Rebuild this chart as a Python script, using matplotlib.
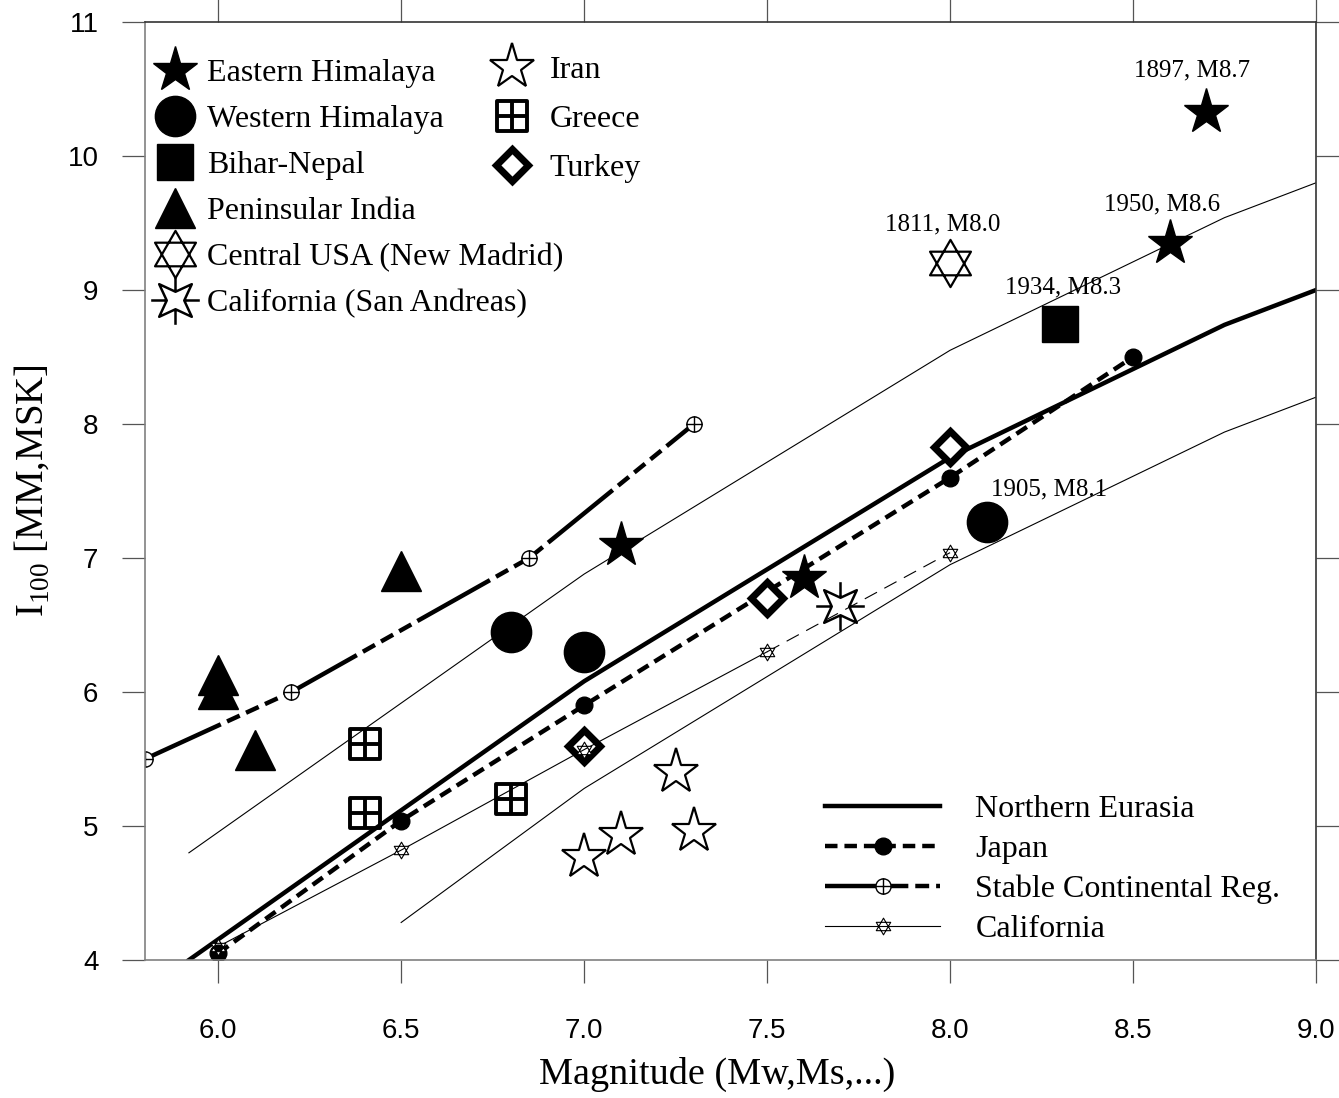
import matplotlib
matplotlib.use("Agg")
import matplotlib.pyplot as plt
from matplotlib.path import Path
import numpy as np

plt.rcParams['font.family'] = ['Liberation Serif', 'DejaVu Serif']
plt.rcParams['mathtext.fontset'] = 'custom'
plt.rcParams['mathtext.rm'] = 'Liberation Serif'
plt.rcParams['lines.scale_dashes'] = False

# ---- data ----
# model curves
ne_x = [5.92, 7.0, 8.0, 8.75, 9.0]
ne_y = [4.0, 6.08, 7.75, 8.74, 9.0]
upper_x = [5.92, 7.0, 8.0, 8.75, 9.0]
upper_y = [4.8, 6.88, 8.55, 9.54, 9.8]
lower_x = [6.5, 7.0, 8.0, 8.75, 9.0]
lower_y = [4.28, 5.28, 6.95, 7.94, 8.2]
japan_x = [6.0, 6.5, 7.0, 8.0, 8.5]
japan_y = [4.05, 5.04, 5.9, 7.6, 8.5]
scr_x = [5.8, 6.2, 6.85, 7.3]
scr_y = [5.5, 6.0, 7.0, 8.0]
cal_x = [6.0, 6.5, 7.0, 7.5]
cal_y = [4.1, 4.82, 5.57, 6.3]
cal_dash_x = [7.5, 8.0]
cal_dash_y = [6.3, 7.04]

# observed points
ehim_x = [8.7, 8.6, 7.1, 7.6]
ehim_y = [10.33, 9.35, 7.1, 6.85]
whim_x = [6.8, 7.0, 8.1]
whim_y = [6.45, 6.3, 7.27]
bihar_x = [8.3]
bihar_y = [8.75]
penin_x = [6.0, 6.0, 6.1, 6.5]
penin_y = [6.13, 6.02, 5.57, 6.9]
cusa_x = [8.0]
cusa_y = [9.2]
sanand_x = [7.7]
sanand_y = [6.64]
iran_x = [7.0, 7.1, 7.25, 7.3]
iran_y = [4.77, 4.93, 5.4, 4.96]
greece_x = [6.4, 6.4, 6.8]
greece_y = [5.61, 5.1, 5.2]
turkey_x = [8.0, 7.5, 7.0]
turkey_y = [7.83, 6.7, 5.6]

notes = ["1897, M8.7", "1950, M8.6", "1811, M8.0", "1934, M8.3", "1905, M8.1"]
notes_x = [8.66, 8.58, 7.98, 8.31, 8.27]
notes_y = [10.64, 9.64, 9.49, 9.02, 7.51]

# ---- custom markers ----
def hexagram():
    s = np.sqrt(3) / 2
    verts = [(0, 1), (-s, -0.5), (s, -0.5), (0, 1),
             (0, -1), (-s, 0.5), (s, 0.5), (0, -1)]
    codes = [Path.MOVETO, Path.LINETO, Path.LINETO, Path.CLOSEPOLY] * 2
    return Path(verts, codes)

def star4_cross():
    R, r = 0.95, 0.36
    verts, codes = [], []
    for k in range(8):
        ang = np.pi / 2 + k * np.pi / 4
        rad = r if k % 2 == 0 else R
        verts.append((rad * np.cos(ang), rad * np.sin(ang)))
        codes.append(Path.MOVETO if k == 0 else Path.LINETO)
    verts.append(verts[0]); codes.append(Path.CLOSEPOLY)
    for (a, b) in [((0, r), (0, 1)), ((0, -r), (0, -1)), ((r, 0), (1, 0)), ((-r, 0), (-1, 0))]:
        verts += [a, b]; codes += [Path.MOVETO, Path.LINETO]
    return Path(verts, codes)

def box_cross():
    verts = [(-1, -1), (1, -1), (1, 1), (-1, 1), (-1, -1),
             (0, -1), (0, 1), (-1, 0), (1, 0)]
    codes = [Path.MOVETO, Path.LINETO, Path.LINETO, Path.LINETO, Path.CLOSEPOLY,
             Path.MOVETO, Path.LINETO, Path.MOVETO, Path.LINETO]
    return Path(verts, codes)

def circle_plus():
    c = Path.unit_circle()
    cross = Path([(0, -1), (0, 1), (-1, 0), (1, 0)],
                 [Path.MOVETO, Path.LINETO, Path.MOVETO, Path.LINETO])
    return Path.make_compound_path(c, cross)

fig = plt.figure(figsize=(13.39, 10.98), dpi=100)
ax = fig.add_axes([145 / 1339, 1 - 960 / 1098, 1171 / 1339, 938 / 1098])

# model lines
l_ne, = ax.plot(ne_x, ne_y, color='black', lw=3.2, label='Northern Eurasia', zorder=2)
ax.plot(upper_x, upper_y, color='black', lw=0.8, zorder=2)
ax.plot(lower_x, lower_y, color='black', lw=0.8, zorder=2)
l_jp, = ax.plot(japan_x, japan_y, color='black', lw=3.2, dashes=(9, 5),
                marker='o', ms=12, label='Japan', zorder=2)
l_scr, = ax.plot(scr_x, scr_y, color='black', lw=3.2, dashes=(60, 5, 10, 5, 10, 5, 10, 5),
                 marker=circle_plus(), ms=11, mfc='white', mec='black', mew=1.0,
                 label='Stable Continental Reg.', zorder=2)
ax.plot(cal_dash_x, cal_dash_y, color='black', lw=0.8, dashes=(10, 6), zorder=6)
l_cal, = ax.plot(cal_x, cal_y, color='black', lw=0.8, marker=hexagram(), ms=12,
                 mfc='white', mec='black', mew=0.8, label='California', zorder=6)
ax.plot(cal_dash_x[-1:], cal_dash_y[-1:], ls='none', marker=hexagram(), ms=12,
        mfc='white', mec='black', mew=0.8, zorder=6)

# observed points
kw = dict(ls='none', color='black')
p_turk, = ax.plot(turkey_x, turkey_y, marker='D', ms=16, mfc='white', mec='black',
                  mew=5.0, label='Turkey', zorder=3, **kw)
p_gr, = ax.plot(greece_x, greece_y, marker=box_cross(), ms=21, mfc='none', mec='black',
                mew=2.8, label='Greece', zorder=3, **kw)
p_iran, = ax.plot(iran_x, iran_y, marker='*', ms=34, mfc='white', mec='black',
                  mew=1.6, label='Iran', zorder=3, **kw)
p_whim, = ax.plot(whim_x, whim_y, marker='o', ms=29, label='Western Himalaya', zorder=4, **kw)
p_bih, = ax.plot(bihar_x, bihar_y, marker='s', ms=26, label='Bihar-Nepal', zorder=4, **kw)
p_pen, = ax.plot(penin_x, penin_y, marker='^', ms=29, label='Peninsular India', zorder=4, **kw)
p_cusa, = ax.plot(cusa_x, cusa_y, marker=hexagram(), ms=34, mfc='white', mec='black',
                  mew=1.6, label='Central USA (New Madrid)', zorder=4, **kw)
p_ehim, = ax.plot(ehim_x, ehim_y, marker='*', ms=34, label='Eastern Himalaya', zorder=5, **kw)
p_sa, = ax.plot(sanand_x, sanand_y, marker=star4_cross(), ms=35, mfc='white', mec='black',
                mew=1.8, label='California (San Andreas)', zorder=5, **kw)

for t, x, y in zip(notes, notes_x, notes_y):
    ax.text(x, y, t, fontsize=18, ha='center', va='center', zorder=7)

ax.set_xlim(5.8, 9.0)
ax.set_ylim(4, 11)
ax.set_xticks([6.0, 6.5, 7.0, 7.5, 8.0, 8.5, 9.0])
ax.set_xticklabels(['%.1f' % v for v in [6.0, 6.5, 7.0, 7.5, 8.0, 8.5, 9.0]])
ax.set_yticks(range(4, 12))
ax.tick_params(direction='out', length=16.5, width=0.9, color='#555555',
               top=True, right=True, labelsize=20)
ax.tick_params(axis='x', pad=25)
ax.tick_params(axis='y', pad=17)
for lab in ax.get_xticklabels() + ax.get_yticklabels():
    lab.set_family(['Liberation Sans', 'DejaVu Sans'])
for side in ['left', 'bottom']:
    ax.spines[side].set_color('#808080')
for side in ['top', 'right']:
    ax.spines[side].set_color('#333333')
for s in ax.spines.values():
    s.set_linewidth(1.2)

ax.set_xlabel('Magnitude (Mw,Ms,...)', fontsize=27.5)
ax.set_ylabel('I$_{100}$ [MM,MSK]', fontsize=28)
ax.xaxis.set_label_coords(0.4885, -0.1035)
ax.yaxis.set_label_coords(-0.080, 0.5)

legA = ax.legend(handles=[p_ehim, p_whim, p_bih, p_pen, p_cusa, p_sa],
                 loc='upper left', bbox_to_anchor=(0.012, 0.9605), frameon=False,
                 fontsize=23, handlelength=1.0, handletextpad=0.5, labelspacing=0.52,
                 borderpad=0, borderaxespad=0, numpoints=1)
ax.add_artist(legA)
legB = ax.legend(handles=[p_iran, p_gr, p_turk],
                 loc='upper left', bbox_to_anchor=(0.2997, 0.964), frameon=False,
                 fontsize=23, handlelength=1.0, handletextpad=0.69, labelspacing=0.62,
                 borderpad=0, borderaxespad=0, numpoints=1)
ax.add_artist(legB)
ax.legend(handles=[l_ne, l_jp, l_scr, l_cal],
          loc='upper left', bbox_to_anchor=(0.581, 0.176), frameon=False,
          fontsize=23, handlelength=3.6, handletextpad=1.1, labelspacing=0.33,
          borderpad=0, borderaxespad=0, numpoints=1)

fig.savefig('out.png', dpi=100)
